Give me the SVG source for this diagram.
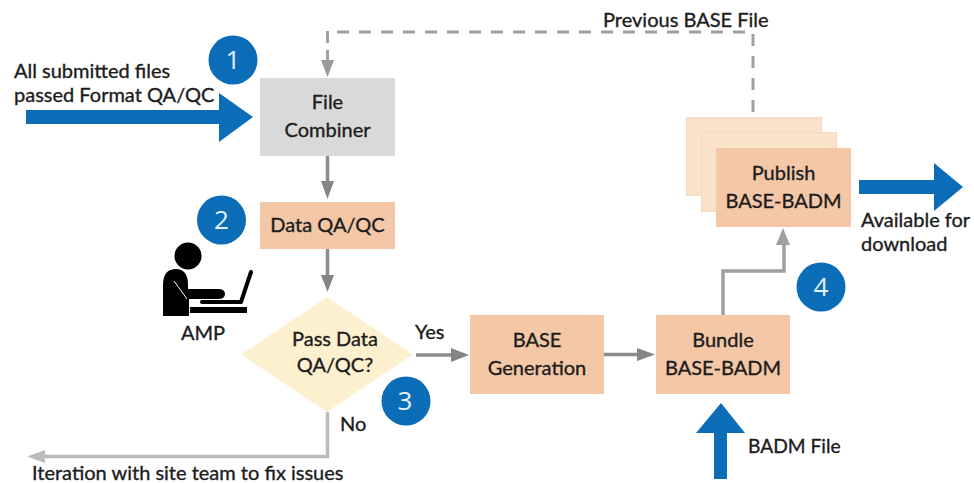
<svg xmlns="http://www.w3.org/2000/svg" width="974" height="483" viewBox="0 0 974 483">
<style>
text{font-family:"Lato","Liberation Sans",sans-serif;font-size:20px;fill:#1c1c1c;stroke:#1c1c1c;stroke-width:.35}
.c{text-anchor:middle}
.box{fill:#f4c7a6}
.pale{fill:#fbe3cb;stroke:#f3d9bf;stroke-width:1}
.num{fill:#0b6cb8}
text.n{font-size:26px;fill:#e4f0f8;stroke:none;text-anchor:middle;font-family:"Open Sans","Liberation Sans",sans-serif;font-weight:400}
.line{fill:none;stroke:#8c8c8c;stroke-width:3.5}
.head{fill:#858585}
.blue{fill:#0b6cb8}
</style>
<rect width="974" height="483" fill="#fff"/>
<g id="connectors">
<path d="M327.500 31V60" fill="none" stroke="#a0a0a0" stroke-width="3" stroke-dasharray="12 7"/>
<path d="M337 32H753V117" fill="none" stroke="#a0a0a0" stroke-width="3" stroke-dasharray="12 10"/>
<path d="M321 60H334L327.500 77Z" fill="#999"/>
<path class="line" d="M327.500 156V183"/><path class="head" d="M321 181H334L327.500 199Z"/>
<path class="line" d="M327.500 249V277"/><path class="head" d="M321 275H334L327.500 292Z"/>
<path class="line" d="M416 355H453"/><path class="head" d="M451 348V362L469 355Z"/>
<path class="line" d="M604 354.500H640"/><path class="head" d="M637 348V361L655 354.500Z"/>
<path d="M723 315V271H784V243" fill="none" stroke="#a0a0a0" stroke-width="3.500"/><path d="M776 245H790L783 228Z" fill="#a0a0a0"/>
<path d="M327.500 412V456.500H44" fill="none" stroke="#bbb" stroke-width="3.500"/><path d="M45 450V463L27 456.500Z" fill="#bbb"/>
<path class="blue" d="M26 110H219V93L253 117L219 142V124H26Z"/>
<path class="blue" d="M859 180H934V163L963 187L934 211V194H859Z"/>
<path class="blue" d="M714 479V433H696L721 403L745 433H727V479Z"/>
</g>
<g id="file-combiner"><rect x="260" y="78" width="135" height="78" fill="#d9d9d9"/><text class="c" x="327.500" y="109">File</text><text class="c" x="327.500" y="137">Combiner</text></g>
<g id="data-qaqc"><rect class="box" x="260" y="202" width="135" height="47"/><text class="c" x="327.500" y="232">Data QA/QC</text></g>
<g id="decision"><path d="M241 354.500L327 297L413 354.500L327 412Z" fill="#fdf0cf"/><text class="c" x="335" y="345.500">Pass Data</text><text class="c" x="335" y="372">QA/QC?</text></g>
<g id="base-generation"><rect class="box" x="470" y="315" width="134" height="79"/><text class="c" x="537" y="347">BASE</text><text class="c" x="537" y="375">Generation</text></g>
<g id="bundle"><rect class="box" x="656" y="315" width="134" height="79"/><text class="c" x="723" y="347">Bundle</text><text class="c" x="723" y="375">BASE-BADM</text></g>
<g id="publish"><rect class="pale" x="686.500" y="117.500" width="135" height="78"/><rect class="pale" x="701.500" y="132.500" width="135" height="79"/><rect class="box" x="716" y="148" width="135" height="79"/><text class="c" x="783.500" y="180">Publish</text><text class="c" x="783.500" y="208">BASE-BADM</text></g>
<g id="amp"><circle cx="188" cy="256" r="13.500"/><path d="M163 316V285Q163 269 176 269Q187 269 188 283V289H218Q225 289 225 294Q225 299 218 299H189V316Z"/><path d="M174 281L187 299" stroke="#fff" stroke-width="1" fill="none"/><path d="M202 302H241L251 272" fill="none" stroke="#000" stroke-width="4" stroke-linecap="round" stroke-linejoin="round"/><rect x="190" y="307" width="57" height="6"/><text class="c" x="203" y="340">AMP</text></g>
<g id="badge-1"><circle class="num" cx="233" cy="60" r="24.500"/><text class="n" x="233" y="69">1</text></g>
<g id="badge-2"><circle class="num" cx="221.500" cy="220" r="24.500"/><text class="n" x="221.500" y="229">2</text></g>
<g id="badge-3"><circle class="num" cx="406" cy="401" r="24.500"/><text class="n" x="405" y="410">3</text></g>
<g id="badge-4"><circle class="num" cx="821" cy="287" r="24.500"/><text class="n" x="821" y="296">4</text></g>
<g id="labels">
<text x="14" y="78">All submitted files</text>
<text x="14" y="102">passed Format QA/QC</text>
<text x="603" y="27">Previous BASE File</text>
<text x="415" y="339">Yes</text>
<text x="340" y="431">No</text>
<text x="32" y="480">Iteration with site team to fix issues</text>
<text x="748" y="453" style="font-size:19.2px">BADM File</text>
<text x="861" y="227">Available for</text>
<text x="861" y="251">download</text>
</g>
</svg>
